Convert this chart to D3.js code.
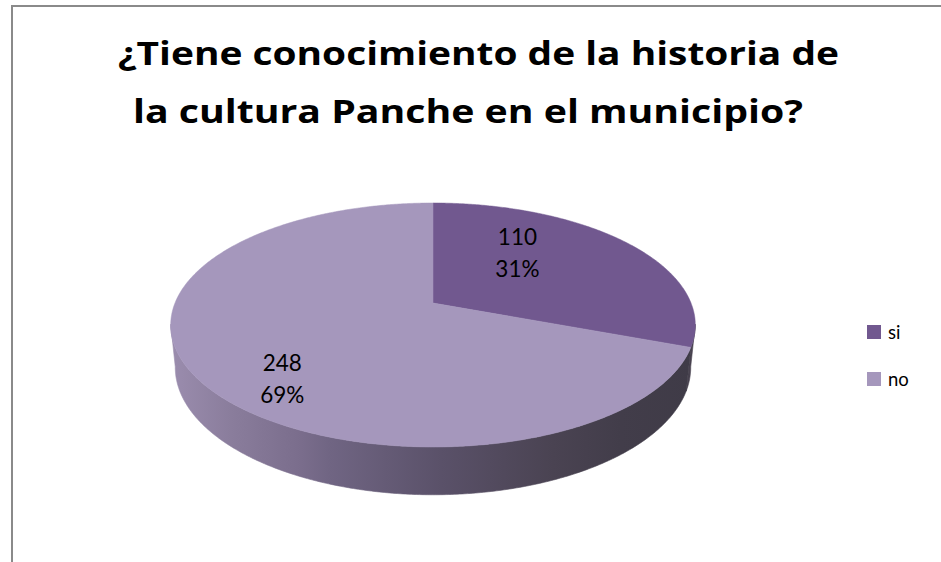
<!DOCTYPE html>
<html>
<head>
<meta charset="utf-8">
<script src="https://cdn.jsdelivr.net/npm/d3@7"></script>
<style>
  html, body { margin: 0; padding: 0; background: #ffffff; }
  svg { display: block; }
</style>
</head>
<body>
<svg id="chart" width="941" height="562"></svg>
<script>
// ---- data ----
const titleLines = ["¿Tiene conocimiento de la historia de", "la cultura Panche en el municipio?"];
const categories = ["si", "no"];
const values = [110, 248];
const topColors = ["#71588F", "#A597BC"];

// ---- layout ----
const W = 941, H = 562;
const svg = d3.select("#chart");
svg.append("rect").attr("width", W).attr("height", H).attr("fill", "#fff");

// chart border (cut at right/bottom like the reference)
svg.append("path")
  .attr("d", `M12,${H + 5} L12,6 L${W + 5},6`)
  .attr("fill", "none").attr("stroke", "#8a8a8a").attr("stroke-width", 2);

// title
const titleSpec = [
  { cx: 478.5, y: 65, w: 721 },
  { cx: 468, y: 123, w: 670 }
];
titleLines.forEach((t, i) => {
  svg.append("text")
    .attr("x", titleSpec[i].cx).attr("y", titleSpec[i].y)
    .attr("text-anchor", "middle")
    .attr("font-family", "'Open Sans', Lato, sans-serif")
    .attr("font-weight", "bold").attr("font-size", 32.5)
    .attr("fill", "#000")
    .attr("textLength", titleSpec[i].w)
    .attr("lengthAdjust", "spacingAndGlyphs")
    .text(t);
});

// ---- 3D perspective pie ----
const cx = 433, cy = 303;      // apex position on screen
const S = 258;                 // F * R / D
const sinP = 0.4575, cosP = Math.sqrt(1 - sinP * sinP);
const k = 0.2028;              // R / D
const t = 0.185;               // height / R

function proj(theta, r, yf) {
  const dd = 1 - k * yf * sinP + k * r * Math.cos(theta) * cosP;
  const sx = cx + S * r * Math.sin(theta) / dd;
  const sy = cy - S * (yf * cosP + r * Math.cos(theta) * sinP) / dd;
  return [sx, sy];
}

const total = d3.sum(values);
const pie = d3.pie().sort(null).value(d => d)
  .startAngle(0).endAngle(2 * Math.PI);
const arcs = pie(values);

const defs = svg.append("defs");
const grad = defs.append("linearGradient").attr("id", "sideNo")
  .attr("gradientUnits", "userSpaceOnUse")
  .attr("x1", 174).attr("y1", 0).attr("x2", 693).attr("y2", 0);
[[0, "#9a8cad"], [0.11, "#8a7d9c"], [0.245, "#7a6d8c"], [0.3, "#706583"],
 [0.515, "#5a5169"], [0.73, "#4a4352"], [0.86, "#423d4a"], [1, "#3f3b47"]]
  .forEach(([o, c]) => grad.append("stop").attr("offset", o).attr("stop-color", c));
const sideFills = ["#48424f", "url(#sideNo)"];

const line = d3.line();
const step = Math.PI / 360;
function samples(a0, a1) {
  const pts = [];
  const n = Math.max(2, Math.ceil((a1 - a0) / step));
  for (let i = 0; i <= n; i++) pts.push(a0 + (a1 - a0) * i / n);
  return pts;
}

// visible outer wall range (front facing)
const wallLo = Math.PI * 100 / 180, wallHi = Math.PI * 260 / 180;
const gWalls = svg.append("g");
arcs.forEach((a, i) => {
  const a0 = Math.max(a.startAngle, wallLo), a1 = Math.min(a.endAngle, wallHi);
  if (a1 <= a0) return;
  const s = samples(a0, a1);
  const topPts = s.map(th => proj(th, 1, 0));
  const botPts = s.slice().reverse().map(th => proj(th, 1, -t));
  gWalls.append("path")
    .attr("d", line(topPts.concat(botPts)) + "Z")
    .attr("fill", sideFills[i])
    .attr("stroke", sideFills[i]).attr("stroke-width", 0.6);
});

// top faces
const gTop = svg.append("g");
arcs.forEach((a, i) => {
  const pts = [proj(0, 0, 0)].concat(samples(a.startAngle, a.endAngle).map(th => proj(th, 1, 0)));
  gTop.append("path")
    .attr("d", line(pts) + "Z")
    .attr("fill", topColors[i])
    .attr("stroke", topColors[i]).attr("stroke-width", 0.5);
});

// data labels
const fmtPct = d3.format(".0%");
const labelNudge = [[-26, -15], [-27, 37]];
arcs.forEach((a, i) => {
  const mid = (a.startAngle + a.endAngle) / 2;
  const [lx, ly] = proj(mid, 0.55, 0);
  const x = lx + labelNudge[i][0], y = ly + labelNudge[i][1];
  const txt = svg.append("text")
    .attr("x", x).attr("y", y - 8)
    .attr("text-anchor", "middle")
    .attr("font-family", "Lato, 'Open Sans', sans-serif")
    .attr("font-size", 22.5).attr("fill", "#000");
  txt.append("tspan").attr("x", x).attr("dy", 0).text(values[i]);
  txt.append("tspan").attr("x", x).attr("dy", 31.5).text(fmtPct(values[i] / total));
});

// legend
const legend = svg.append("g").attr("transform", "translate(867,325)");
categories.forEach((c, i) => {
  const g = legend.append("g").attr("transform", `translate(0,${i * 47})`);
  g.append("rect").attr("width", 14).attr("height", 14).attr("fill", topColors[i]);
  g.append("text").attr("x", 21).attr("y", 13.5)
    .attr("font-family", "Lato, 'Open Sans', sans-serif")
    .attr("font-size", 18.5).attr("fill", "#000")
    .text(c);
});
</script>
</body>
</html>
